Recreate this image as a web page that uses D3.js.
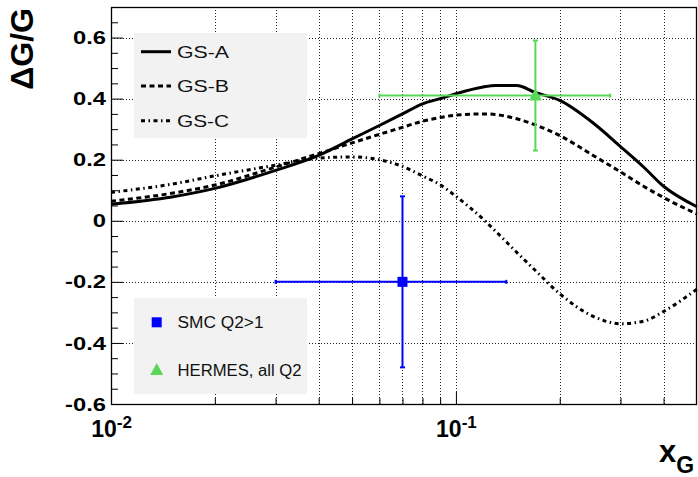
<!DOCTYPE html>
<html lang="en">
<head>
  <meta charset="utf-8">
  <style>
    html, body {
      margin: 0;
      padding: 0;
      background: #fff;
      width: 100%;
      height: 100%;
      overflow: hidden;
      font-family: "Liberation Sans", Arial, sans-serif;
    }
    svg { display: block; }
  </style>
</head>
<body>
<svg></svg>

<script src="https://d3js.org/d3.v7.min.js"></script>
<script>
const width = 698;
const height = 477;
const margin = {top: 7, right: 1, bottom: 73, left: 111};

// curves
const xValues = [0.01, 0.015, 0.02, 0.03, 0.04, 0.05, 0.06, 0.07, 0.08, 0.09, 0.1,
                 0.12, 0.13, 0.15, 0.17, 0.2, 0.25, 0.3, 0.35, 0.4, 0.5];
const gsA = [0.054, 0.078, 0.106, 0.165, 0.214, 0.268, 0.312, 0.350, 0.383, 0.400, 0.416,
             0.438, 0.443, 0.443, 0.420, 0.394, 0.320, 0.243, 0.176, 0.113, 0.046];
const gsB = [0.064, 0.090, 0.117, 0.176, 0.220, 0.255, 0.283, 0.306, 0.326, 0.338, 0.346,
             0.350, 0.348, 0.334, 0.314, 0.279, 0.214, 0.160, 0.113, 0.076, 0.022];
const gsC = [0.093, 0.120, 0.147, 0.182, 0.205, 0.209, 0.200, 0.178, 0.147, 0.118, 0.080,
             0.005, -0.033, -0.103, -0.163, -0.239, -0.313, -0.337, -0.329, -0.297, -0.224];
const curveNames = ["GS-A", "GS-B", "GS-C"];

// measurements
const pointNames = ["SMC Q2>1", "HERMES, all Q2"];
const pointX = [0.07, 0.17];
const pointY = [-0.2, 0.41];
const pointXLow = [0.03, 0.06];
const pointXHigh = [0.14, 0.28];
const pointYLow = [-0.48, 0.23];
const pointYHigh = [0.08, 0.59];

// ticks
const yMajor = [-0.6, -0.4, -0.2, 0, 0.2, 0.4, 0.6];
const yMinor = [-0.55, -0.5, -0.45, -0.35, -0.3, -0.25, -0.15, -0.1, -0.05,
                0.05, 0.1, 0.15, 0.25, 0.3, 0.35, 0.45, 0.5, 0.55, 0.65];
const xMajor = [0.01, 0.1];
const xMajorLabels = ["-2", "-1"];
const xMinor = [0.02, 0.03, 0.04, 0.05, 0.06, 0.07, 0.08, 0.09, 0.2, 0.3, 0.4];

const svg = d3.select("svg").attr("width", width).attr("height", height);

const x = d3.scaleLog().domain([0.01, 0.5]).range([margin.left, width - margin.right]);
const y = d3.scaleLinear().domain([-0.6, 0.7]).range([height - margin.bottom, margin.top]);

// grille pointillée
const grid = svg.append("g")
  .attr("stroke", "#222")
  .attr("stroke-width", 1)
  .attr("stroke-dasharray", "1,2");
grid.selectAll(".gx")
  .data(xMinor.concat([0.1]))
  .join("line")
  .attr("x1", d => Math.round(x(d)) + 0.5).attr("x2", d => Math.round(x(d)) + 0.5)
  .attr("y1", y(0.7)).attr("y2", y(-0.6));
grid.selectAll(".gy")
  .data(yMajor.filter(d => d > -0.6))
  .join("line")
  .attr("x1", x(0.01)).attr("x2", x(0.5))
  .attr("y1", d => Math.round(y(d)) + 0.5).attr("y2", d => Math.round(y(d)) + 0.5);

// legend boxes (they hide the grid)
svg.append("rect")
  .attr("x", 134).attr("y", 33).attr("width", 173).attr("height", 105)
  .attr("fill", "#f2f2f2");
svg.append("rect")
  .attr("x", 134).attr("y", 298).attr("width", 173).attr("height", 96)
  .attr("fill", "#f2f2f2");

// curves
const dashes = [null, "5,3.5", "4,3.5,1.5,3.5"];
const curveData = [gsA, gsB, gsC];
const line = d3.line()
  .x(d => x(d[0]))
  .y(d => y(d[1]))
  .curve(d3.curveMonotoneX);

curveData.forEach((vals, i) => {
  svg.append("path")
    .datum(xValues.map((v, j) => [v, vals[j]]))
    .attr("d", line)
    .attr("fill", "none")
    .attr("stroke", "#000")
    .attr("stroke-width", 3)
    .attr("stroke-dasharray", dashes[i]);
});

// points with error bars
const pointColors = ["#0000ff", "#5ad65a"];
pointX.forEach((px, i) => {
  const g = svg.append("g").attr("stroke", pointColors[i]).attr("stroke-width", 2);
  const cx = x(px), cy = y(pointY[i]);
  g.append("line").attr("x1", x(pointXLow[i])).attr("x2", x(pointXHigh[i])).attr("y1", cy).attr("y2", cy);
  g.append("line").attr("x1", cx).attr("x2", cx).attr("y1", y(pointYLow[i])).attr("y2", y(pointYHigh[i]));
  // petits embouts
  [x(pointXLow[i]), x(pointXHigh[i])].forEach(ex =>
    g.append("line").attr("x1", ex).attr("x2", ex).attr("y1", cy - 2).attr("y2", cy + 2));
  [y(pointYLow[i]), y(pointYHigh[i])].forEach(ey =>
    g.append("line").attr("x1", cx - 2.5).attr("x2", cx + 2.5).attr("y1", ey).attr("y2", ey));
});

const marker = (g, i, cx, cy) => {
  if (i === 0) {
    g.append("rect")
      .attr("x", cx - 5).attr("y", cy - 5).attr("width", 10).attr("height", 10)
      .attr("fill", pointColors[0]);
  } else {
    g.append("path")
      .attr("d", `M${cx},${cy - 7} L${cx + 6.5},${cy + 5} L${cx - 6.5},${cy + 5} Z`)
      .attr("fill", pointColors[1]);
  }
};
pointX.forEach((px, i) => marker(svg, i, x(px), y(pointY[i])));

// frame
svg.append("rect")
  .attr("x", margin.left + 0.5).attr("y", margin.top + 0.5)
  .attr("width", width - margin.left - margin.right - 1)
  .attr("height", height - margin.top - margin.bottom)
  .attr("fill", "none")
  .attr("stroke", "#000")
  .attr("stroke-width", 1.3);

// axe Y
const yAxis = svg.append("g")
  .attr("transform", `translate(${margin.left},0)`)
  .call(d3.axisLeft(y).tickValues(yMajor).tickSize(-12).tickPadding(5)
    .tickFormat(d => d === 0 ? "0" : d.toFixed(1)));
svg.append("g")
  .attr("transform", `translate(${margin.left},0)`)
  .call(d3.axisLeft(y).tickValues(yMinor).tickSize(-7).tickFormat(""))
  .call(g => g.select(".domain").remove());
yAxis.select(".domain").remove();
yAxis.selectAll("text")
  .attr("x", null)
  .attr("transform", "translate(-5,0) scale(1.25,1)")
  .attr("font-size", 19)
  .attr("font-weight", "bold")
  .attr("font-family", "Liberation Sans, Arial, sans-serif")
  .attr("fill", "#000");

// axe X
const xAxis = svg.append("g")
  .attr("transform", `translate(0,${height - margin.bottom})`)
  .call(d3.axisBottom(x).tickValues(xMajor).tickSize(-12).tickFormat(""));
svg.append("g")
  .attr("transform", `translate(0,${height - margin.bottom})`)
  .call(d3.axisBottom(x).tickValues(xMinor).tickSize(-6).tickFormat(""))
  .call(g => g.select(".domain").remove());
xAxis.select(".domain").remove();
xAxis.selectAll(".tick text").each(function(d, i) {
  const t = d3.select(this)
    .attr("y", 33).attr("dy", null)
    .attr("font-size", 23)
    .attr("font-weight", "bold")
    .attr("font-family", "Liberation Sans, Arial, sans-serif")
    .attr("fill", "#000")
    .attr("text-anchor", "middle");
  t.text("10");
  t.append("tspan").attr("font-size", 17).attr("dy", -9).text(xMajorLabels[i]);
});

// titres des axes
svg.append("text")
  .attr("transform", "translate(33,8) rotate(-90)")
  .attr("text-anchor", "end")
  .attr("font-size", 32)
  .attr("font-weight", "bold")
  .text("\u0394G/G");

const xt = svg.append("text")
  .attr("x", 659).attr("y", 462)
  .attr("font-size", 31)
  .attr("font-weight", "bold")
  .text("x");
xt.append("tspan").attr("font-size", 23).attr("dy", 11).text("G");

// légende des courbes
const legendY = [51.7, 86, 120.7];
curveNames.forEach((name, i) => {
  svg.append("line")
    .attr("x1", 141).attr("x2", 171)
    .attr("y1", legendY[i]).attr("y2", legendY[i])
    .attr("stroke", "#000").attr("stroke-width", 3)
    .attr("stroke-dasharray", dashes[i]);
  svg.append("text")
    .attr("x", 177).attr("y", legendY[i])
    .attr("dy", "0.36em")
    .attr("font-size", 17)
    .attr("textLength", 52)
    .attr("lengthAdjust", "spacingAndGlyphs")
    .attr("fill", "#111")
    .text(name);
});

// légende des mesures
const legendPY = [322.3, 370];
const legendPW = [86, 124];
pointNames.forEach((name, i) => {
  marker(svg, i, 156.7, legendPY[i]);
  svg.append("text")
    .attr("x", 177.5).attr("y", legendPY[i])
    .attr("dy", "0.36em")
    .attr("font-size", 16)
    .attr("textLength", legendPW[i])
    .attr("lengthAdjust", "spacingAndGlyphs")
    .attr("fill", "#111")
    .text(name);
});
</script>
</body>
</html>
